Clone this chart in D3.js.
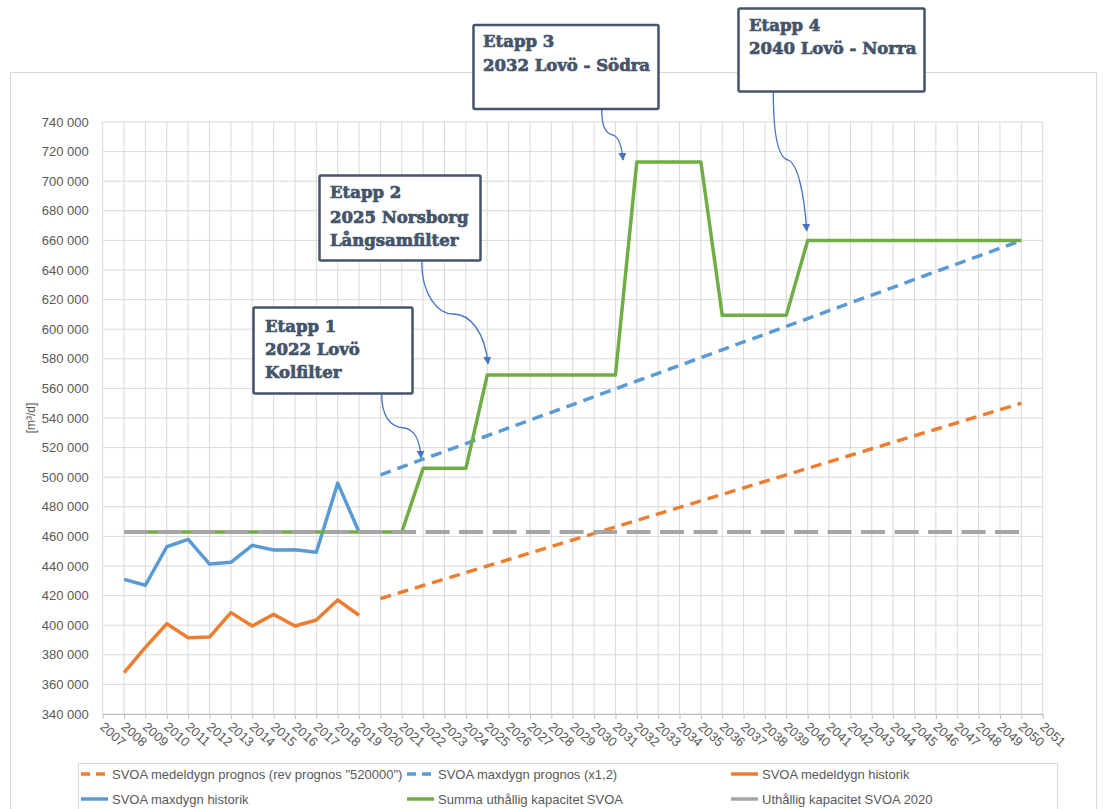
<!DOCTYPE html>
<html><head><meta charset="utf-8">
<script src="https://cdn.jsdelivr.net/npm/d3@7/dist/d3.min.js"></script>
<style>
body{margin:0;background:#fff;}
svg{display:block;}
</style></head>
<body>
<svg id="chart" width="1107" height="809"></svg>
<script>
// ---------- data ----------
const histYears = [2008,2009,2010,2011,2012,2013,2014,2015,2016,2017,2018,2019];
const medelHistorik = [368000,385000,401000,391500,392000,408500,399500,407300,399500,403500,417000,406700];
const maxHistorik   = [431000,427000,453000,458000,441300,442500,454000,450800,451000,449300,496000,463000];

const progYears = [2020,2021,2022,2023,2024,2025,2026,2027,2028,2029,2030,2031,2032,2033,2034,2035,2036,2037,2038,2039,2040,2041,2042,2043,2044,2045,2046,2047,2048,2049,2050];
const medelPrognos = [418000,422400,426800,431200,435600,440000,444400,448800,453200,457600,462000,466400,470800,475200,479600,484000,488400,492800,497200,501600,506000,510400,514800,519200,523600,528000,532400,536800,541200,545600,550000];
const maxPrognos = [501600,506900,512200,517400,522700,528000,533300,538600,543800,549100,554400,559700,565000,570200,575500,580800,586100,591400,596600,601900,607200,612500,617800,623000,628300,633600,638900,644200,649400,654700,660000];

const capYears = [2008,2009,2010,2011,2012,2013,2014,2015,2016,2017,2018,2019,2020,2021,2022,2023,2024,2025,2026,2027,2028,2029,2030,2031,2032,2033,2034,2035,2036,2037,2038,2039,2040,2041,2042,2043,2044,2045,2046,2047,2048,2049,2050];
const summaKapacitet = [463000,463000,463000,463000,463000,463000,463000,463000,463000,463000,463000,463000,463000,463000,
  506000,506000,506000,
  569000,569000,569000,569000,569000,569000,569000,
  713000,713000,713000,713000,
  609500,609500,609500,609500,
  660000,660000,660000,660000,660000,660000,660000,660000,660000,660000,660000];
const kapacitet2020 = capYears.map(() => 463000);

const xTicks = d3.range(2007, 2052);
const yTicks = d3.range(340000, 740001, 20000);

const legendLabels = ['SVOA medeldygn prognos (rev prognos "520000")','SVOA maxdygn prognos (x1,2)','SVOA medeldygn historik','SVOA maxdygn historik','Summa uthållig kapacitet SVOA','Uthållig kapacitet SVOA 2020'];

const callouts = [
  {lines:["Etapp 1","2022 Lovö","Kolfilter"]},
  {lines:["Etapp 2","2025 Norsborg","Långsamfilter"]},
  {lines:["Etapp 3","2032 Lovö - Södra"]},
  {lines:["Etapp 4","2040 Lovö - Norra"]}
];

// ---------- layout ----------
const svg = d3.select("#chart");
const x = d3.scaleLinear().domain([2007, 2051]).range([102.7, 1042.7]);
const y = d3.scaleLinear().domain([340000, 740000]).range([714, 122]);

const C = {orange:"#ed7d31", blue:"#5b9bd5", green:"#70ad47", gray:"#a5a5a5", grid:"#d9d9d9", text:"#595959", box:"#44546a", arrow:"#4472c4"};

// chart area border
svg.append("rect").attr("x",10.5).attr("y",72.5).attr("width",1086).attr("height",760)
  .attr("fill","#fff").attr("stroke","#d9d9d9").attr("stroke-width",1);

// gridlines
const g = svg.append("g");
g.selectAll(".hg").data(yTicks).join("line")
  .attr("x1",x(2007)).attr("x2",x(2051)).attr("y1",d=>y(d)).attr("y2",d=>y(d))
  .attr("stroke",C.grid).attr("stroke-width",1);
g.selectAll(".vg").data(xTicks).join("line")
  .attr("x1",d=>x(d)).attr("x2",d=>x(d)).attr("y1",y(740000)).attr("y2",y(340000))
  .attr("stroke",C.grid).attr("stroke-width",1);

// x axis
const xAxis = svg.append("g").attr("transform",`translate(0,${y(340000)})`)
  .call(d3.axisBottom(x).tickValues(xTicks).tickFormat(d3.format("d")).tickSize(5).tickSizeOuter(0));
xAxis.select(".domain").attr("stroke","#bfbfbf").attr("stroke-width",1.2);
xAxis.selectAll(".tick line").attr("stroke","#bfbfbf");
xAxis.selectAll(".tick text")
  .attr("fill",C.text).attr("font-family","Liberation Sans, Arial, sans-serif").attr("font-size",13)
  .attr("text-anchor","start").attr("dy",0).attr("y",0)
  .attr("transform","translate(-4,14) rotate(42)");

// y axis labels
const yAxis = svg.append("g").attr("transform",`translate(${x(2007)},0)`)
  .call(d3.axisLeft(y).tickValues(yTicks).tickSize(0).tickPadding(14)
    .tickFormat(d => d3.format(",")(d).replace(/,/g," ")));
yAxis.select(".domain").remove();
yAxis.selectAll(".tick text").attr("fill",C.text)
  .attr("font-family","Liberation Sans, Arial, sans-serif").attr("font-size",13);

svg.append("text").attr("transform","translate(35,418) rotate(-90)")
  .attr("text-anchor","middle").attr("fill",C.text)
  .attr("font-family","Liberation Sans, Arial, sans-serif").attr("font-size",12)
  .text("[m³/d]");

// series
const line = d3.line().x(d=>x(d[0])).y(d=>y(d[1]));
function drawSeries(yrs, vals, color, width, dash){
  svg.append("path").datum(yrs.map((yr,i)=>[yr, vals[i]]))
    .attr("d", line).attr("fill","none").attr("stroke",color)
    .attr("stroke-width",width).attr("stroke-linejoin","round")
    .attr("stroke-dasharray", dash || null);
}
drawSeries(progYears, medelPrognos, C.orange, 3.5, "11,7");
drawSeries(progYears, maxPrognos, C.blue, 3.5, "11,7");
drawSeries(histYears, medelHistorik, C.orange, 3.5);
drawSeries(histYears, maxHistorik, C.blue, 3.5);
drawSeries(capYears, summaKapacitet, C.green, 3.5);
drawSeries(capYears, kapacitet2020, C.gray, 4, "24,9.5");

// callouts
const boxes = [
  {x:253.5, y:307.5, w:159, h:86, tx:265, base:[332,355,378]},
  {x:319.5, y:175.5, w:161, h:85, tx:330, base:[198,223,246]},
  {x:473.5, y:25, w:185, h:84, tx:483, base:[47,71]},
  {x:738.5, y:8.5, w:186, h:83, tx:749, base:[31,54]}
];
const defs = svg.append("defs");
defs.append("marker").attr("id","ah").attr("viewBox","0 0 10 10").attr("refX",9).attr("refY",5)
  .attr("markerWidth",8).attr("markerHeight",8).attr("markerUnits","userSpaceOnUse").attr("orient","auto")
  .append("path").attr("d","M0,0 L10,5 L0,10 Z").attr("fill",C.arrow);

const arrows = [
  "M381.7,394 C381.7,420 393,427 404,428 C414,429 420,440 421,458",
  "M421.7,262 C421.7,295 438,314 453,314 C470,314 485,332 488,364",
  "M601.7,110 C601.7,127 606,134 613,135 C619,137 622,148 623,160",
  "M773.3,92 C773.3,140 779,158 788,160 C797,163 804,190 806.7,231"
];
arrows.forEach(d=>{
  svg.append("path").attr("d",d).attr("fill","none").attr("stroke",C.arrow)
    .attr("stroke-width",1.3).attr("marker-end","url(#ah)");
});

boxes.forEach((b,i)=>{
  svg.append("rect").attr("x",b.x).attr("y",b.y).attr("width",b.w).attr("height",b.h)
    .attr("rx",1.5).attr("fill","#fff").attr("stroke",C.box).attr("stroke-width",2.5);
  callouts[i].lines.forEach((t,j)=>{
    svg.append("text").attr("x",b.tx).attr("y",b.base[j]).attr("fill",C.box)
      .attr("stroke",C.box).attr("stroke-width",0.7)
      .attr("font-family","DejaVu Serif, serif").attr("font-weight","bold").attr("font-size",16.5)
      .text(t);
  });
});

// legend
svg.append("path").attr("d","M78.5,840 V763.5 H1057.5 V840").attr("fill","none").attr("stroke","#d9d9d9");
const legItems = [
  {c:C.orange, dash:"9,6", x:81, y:774},
  {c:C.blue, dash:"9,6", x:407, y:774},
  {c:C.orange, dash:null, x:731, y:774},
  {c:C.blue, dash:null, x:81, y:799},
  {c:C.green, dash:null, x:407, y:799},
  {c:C.gray, dash:null, x:731, y:799}
];
legItems.forEach((it,i)=>{
  svg.append("line").attr("x1",it.x).attr("x2",it.x+27).attr("y1",it.y).attr("y2",it.y)
    .attr("stroke",it.c).attr("stroke-width",3.5).attr("stroke-dasharray",it.dash);
  svg.append("text").attr("x",it.x+31).attr("y",it.y+4.5).attr("fill",C.text)
    .attr("font-family","Liberation Sans, Arial, sans-serif").attr("font-size",13)
    .text(legendLabels[i]);
});
</script>
</body></html>
